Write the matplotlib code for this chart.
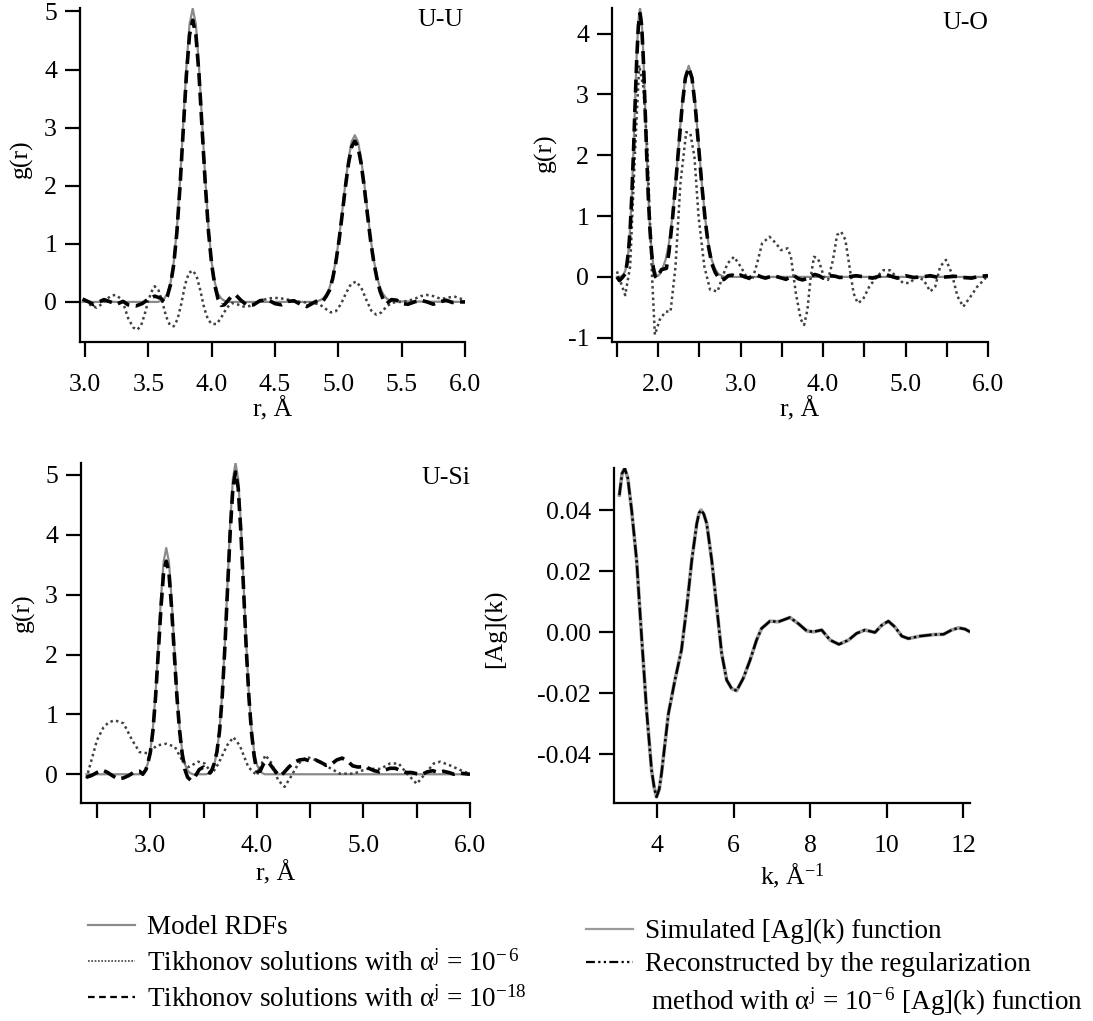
#!/usr/bin/env python3
# -*- coding: utf-8 -*-
"""
U-U / U-O / U-Si 的 RDF 重建 + [Ag](k) 函数对比图
"""

import matplotlib
matplotlib.use('Agg')
import matplotlib.pyplot as plt
from matplotlib.lines import Line2D

# —— 数据 —— #
# U-U
uu_model_r = [2.98, 3.55, 3.575, 3.6, 3.625, 3.65, 3.675, 3.7, 3.725, 3.75, 3.775, 3.8, 3.825, 3.85,
              3.875, 3.9, 3.925, 3.95, 3.975, 4.0, 4.025, 4.05, 4.075, 4.1, 4.125, 4.8, 4.83, 4.855,
              4.88, 4.905, 4.93, 4.955, 4.98, 5.005, 5.03, 5.055, 5.08, 5.105, 5.13, 5.155, 5.18,
              5.205, 5.23, 5.255, 5.28, 5.305, 5.33, 5.355, 5.38, 5.405, 5.43, 6.0]
uu_model_g = [0.0, 0.0, 0.0, 0.02, 0.06, 0.14, 0.33, 0.68, 1.26, 2.08, 3.06, 4.04, 4.78, 5.05,
              4.78, 4.04, 3.06, 2.08, 1.26, 0.68, 0.33, 0.14, 0.06, 0.02, 0.0, 0.0, 0.01, 0.03,
              0.06, 0.13, 0.24, 0.43, 0.72, 1.09, 1.55, 2.03, 2.46, 2.76, 2.87, 2.76, 2.46,
              2.03, 1.55, 1.09, 0.72, 0.43, 0.24, 0.13, 0.06, 0.03, 0.01, 0.0]

uu_a6_r = [3.0, 3.04, 3.09, 3.13, 3.17, 3.21, 3.24, 3.28, 3.31, 3.34, 3.38, 3.41, 3.44, 3.47, 3.5,
           3.53, 3.55, 3.58, 3.61, 3.64, 3.67, 3.7, 3.73, 3.76, 3.79, 3.82, 3.85, 3.88, 3.91, 3.94,
           3.97, 4.0, 4.04, 4.08, 4.12, 4.16, 4.2, 4.25, 4.3, 4.35, 4.4, 4.45, 4.5, 4.55, 4.6, 4.65,
           4.7, 4.75, 4.8, 4.85, 4.9, 4.94, 4.98, 5.02, 5.06, 5.1, 5.14, 5.18, 5.22, 5.26, 5.3,
           5.34, 5.38, 5.42, 5.46, 5.5, 5.55, 5.6, 5.65, 5.7, 5.75, 5.8, 5.84, 5.88, 5.92, 5.96, 6.0]
uu_a6_g = [0.03, -0.05, -0.1, -0.04, 0.05, 0.11, 0.12, 0.06, -0.08, -0.28, -0.44, -0.48, -0.42,
           -0.22, 0.03, 0.2, 0.27, 0.2, 0.0, -0.25, -0.4, -0.42, -0.3, -0.03, 0.3, 0.5, 0.54, 0.45,
           0.2, -0.1, -0.3, -0.38, -0.38, -0.25, -0.1, -0.02, -0.04, -0.08, -0.07, -0.02, 0.03,
           0.06, 0.07, 0.06, 0.04, 0.02, 0.0, -0.01, -0.02, -0.04, -0.12, -0.18, -0.16, -0.04,
           0.15, 0.31, 0.35, 0.25, 0.04, -0.15, -0.22, -0.18, -0.08, -0.02, 0.0, 0.0, 0.02, 0.05,
           0.1, 0.12, 0.1, 0.06, 0.06, 0.08, 0.09, 0.06, 0.03]

uu_a18_r = [2.98, 3.03, 3.07, 3.11, 3.15, 3.2, 3.25, 3.3, 3.34, 3.4, 3.45, 3.5, 3.55, 3.6, 3.625,
            3.65, 3.675, 3.7, 3.725, 3.75, 3.775, 3.8, 3.825, 3.85, 3.875, 3.9, 3.925, 3.95, 3.975,
            4.0, 4.025, 4.05, 4.075, 4.1, 4.15, 4.19, 4.23, 4.28, 4.33, 4.38, 4.44, 4.5, 4.55, 4.6,
            4.65, 4.7, 4.75, 4.8, 4.85, 4.88, 4.905, 4.93, 4.955, 4.98, 5.005, 5.03, 5.055, 5.08,
            5.105, 5.13, 5.155, 5.18, 5.205, 5.23, 5.255, 5.28, 5.305, 5.33, 5.355, 5.38, 5.42,
            5.46, 5.5, 5.55, 5.6, 5.65, 5.7, 5.75, 5.8, 5.85, 5.9, 5.95, 6.0]
uu_a18_g = [0.05, 0.0, -0.05, 0.0, 0.04, 0.0, -0.04, 0.01, -0.05, -0.07, -0.03, 0.05, 0.1, 0.06,
            0.0, 0.1, 0.3, 0.64, 1.2, 2.0, 2.95, 3.9, 4.6, 4.85, 4.6, 3.9, 2.95, 2.0, 1.2,
            0.64, 0.28, 0.05, -0.06, -0.05, 0.08, 0.12, 0.03, -0.06, -0.05, 0.02, 0.04, -0.03,
            -0.05, 0.01, 0.02, -0.04, -0.08, -0.02, 0.04, 0.02, 0.1, 0.2, 0.4, 0.68, 1.05, 1.5,
            1.97, 2.38, 2.67, 2.77, 2.67, 2.38, 1.97, 1.5, 1.05, 0.68, 0.4, 0.18, 0.04, -0.03,
            0.04, 0.03, -0.03, -0.04, 0.0, 0.03, 0.0, -0.04, 0.0, 0.03, -0.01, 0.0, 0.0]

# U-O
uo_model_r = [1.5, 1.56, 1.58, 1.6, 1.62, 1.64, 1.66, 1.68, 1.7, 1.72, 1.74, 1.76, 1.78, 1.8, 1.82,
              1.84, 1.86, 1.88, 1.9, 1.92, 1.94, 1.96, 1.98, 2.0, 2.02, 2.05, 2.09, 2.13, 2.17, 2.21,
              2.25, 2.29, 2.33, 2.37, 2.41, 2.45, 2.49, 2.53, 2.57, 2.61, 2.65, 2.69, 2.73, 2.77,
              2.8, 6.0]
uo_model_g = [0.0, 0.01, 0.04, 0.1, 0.21, 0.43, 0.8, 1.35, 2.07, 2.89, 3.66, 4.22, 4.42, 4.22, 3.66,
              2.89, 2.07, 1.35, 0.8, 0.43, 0.21, 0.1, 0.03, 0.02, 0.05, 0.13, 0.28, 0.55, 0.96, 1.53,
              2.19, 2.83, 3.3, 3.47, 3.3, 2.83, 2.19, 1.53, 0.96, 0.55, 0.28, 0.13, 0.05, 0.02,
              0.0, 0.0]

uo_a6_r = [1.5, 1.6, 1.66, 1.72, 1.77, 1.82, 1.87, 1.92, 1.96, 2.02, 2.09, 2.15, 2.21, 2.27, 2.34,
           2.39, 2.44, 2.49, 2.56, 2.63, 2.72, 2.78, 2.84, 2.92, 3.0, 3.08, 3.14, 3.2, 3.26, 3.35,
           3.43, 3.49, 3.57, 3.61, 3.67, 3.73, 3.77, 3.81, 3.85, 3.89, 3.94, 4.01, 4.06, 4.12,
           4.17, 4.22, 4.27, 4.32, 4.37, 4.42, 4.48, 4.56, 4.65, 4.73, 4.81, 4.89, 4.97, 5.05,
           5.13, 5.22, 5.3, 5.36, 5.42, 5.49, 5.56, 5.63, 5.7, 5.79, 5.87, 5.95, 6.0]
uo_a6_g = [0.09, -0.3, 0.17, 2.08, 3.48, 3.12, 2.08, 0.17, -0.95, -0.7, -0.57, -0.57, 0.17, 1.54,
           2.38, 2.36, 1.97, 0.99, 0.17, -0.21, -0.24, 0.0, 0.22, 0.33, 0.17, -0.02, -0.05, 0.22,
           0.55, 0.66, 0.55, 0.44, 0.47, 0.33, -0.27, -0.7, -0.79, -0.54, 0.0, 0.33, 0.3, 0.0,
           -0.05, 0.28, 0.69, 0.74, 0.61, 0.17, -0.27, -0.43, -0.38, -0.16, 0.0, 0.11, 0.11, 0.0,
           -0.1, -0.1, 0.0, -0.05, -0.24, -0.16, 0.17, 0.28, 0.06, -0.32, -0.49, -0.32, -0.16,
           -0.05, 0.03]

uo_a18_r = [1.5, 1.53, 1.56, 1.6, 1.62, 1.64, 1.66, 1.68, 1.7, 1.72, 1.74, 1.76, 1.78, 1.8, 1.82,
            1.84, 1.86, 1.88, 1.9, 1.92, 1.94, 1.96, 1.98, 2.01, 2.04, 2.07, 2.1, 2.13, 2.17, 2.21,
            2.25, 2.29, 2.33, 2.37, 2.41, 2.45, 2.49, 2.53, 2.57, 2.61, 2.65, 2.69, 2.73, 2.77,
            2.8, 2.85, 2.9, 2.95, 3.0, 3.05, 3.1, 3.15, 3.2, 3.25, 3.3, 3.35, 3.4, 3.45, 3.5, 3.55,
            3.6, 3.65, 3.7, 3.75, 3.8, 3.85, 3.9, 3.95, 4.0, 4.05, 4.1, 4.15, 4.2, 4.3, 4.4, 4.5,
            4.6, 4.7, 4.75, 4.8, 4.9, 5.0, 5.1, 5.2, 5.3, 5.4, 5.5, 5.6, 5.7, 5.8, 5.9, 6.0]
uo_a18_g = [0.0, -0.06, -0.02, 0.05, 0.2, 0.42, 0.78, 1.32, 2.03, 2.83, 3.58, 4.13, 4.33, 4.13,
            3.58, 2.83, 2.03, 1.32, 0.78, 0.4, 0.15, 0.02, -0.02, 0.05, 0.12, 0.13, 0.14, 0.4,
            0.9, 1.5, 2.15, 2.8, 3.27, 3.44, 3.27, 2.8, 2.15, 1.5, 0.94, 0.5, 0.22, 0.08, -0.01,
            -0.05, -0.04, 0.02, 0.03, 0.0, 0.03, 0.0, -0.02, 0.02, 0.03, 0.0, -0.02, 0.0, 0.02,
            0.0, -0.02, -0.04, 0.0, 0.02, -0.03, -0.05, -0.03, 0.01, 0.04, 0.02, -0.02, 0.0, 0.02,
            0.01, -0.01, 0.0, 0.02, 0.0, -0.02, 0.02, 0.05, 0.02, -0.02, 0.02, -0.01, 0.0, 0.02,
            -0.01, 0.0, 0.01, -0.01, -0.02, 0.01, 0.02]

# U-Si
usi_model_r = [2.4, 2.9, 2.925, 2.95, 2.975, 3.0, 3.025, 3.05, 3.075, 3.1, 3.125, 3.15, 3.175, 3.2,
               3.225, 3.25, 3.275, 3.3, 3.325, 3.35, 3.375, 3.4, 3.525, 3.55, 3.575, 3.6, 3.625,
               3.65, 3.675, 3.7, 3.725, 3.75, 3.775, 3.8, 3.825, 3.85, 3.875, 3.9, 3.925, 3.95,
               3.975, 4.0, 4.025, 4.05, 4.075, 6.0]
usi_model_g = [0.0, 0.0, 0.02, 0.06, 0.17, 0.38, 0.77, 1.36, 2.13, 2.93, 3.55, 3.78, 3.55, 2.93,
               2.13, 1.36, 0.77, 0.38, 0.17, 0.06, 0.02, 0.0, 0.0, 0.02, 0.07, 0.16, 0.37,
               0.74, 1.34, 2.19, 3.19, 4.19, 4.93, 5.2, 4.93, 4.19, 3.19, 2.19, 1.34, 0.74,
               0.37, 0.16, 0.07, 0.02, 0.0, 0.0]

usi_a6_r = [2.4, 2.43, 2.5, 2.56, 2.61, 2.67, 2.75, 2.83, 2.9, 2.98, 3.06, 3.15, 3.23, 3.3, 3.36,
            3.45, 3.51, 3.58, 3.64, 3.72, 3.78, 3.84, 3.92, 4.0, 4.08, 4.14, 4.2, 4.26, 4.32, 4.39,
            4.47, 4.56, 4.67, 4.78, 4.91, 5.03, 5.16, 5.25, 5.33, 5.41, 5.5, 5.58, 5.66, 5.72,
            5.81, 5.91, 5.99]
usi_a6_g = [-0.07, 0.12, 0.57, 0.78, 0.87, 0.9, 0.85, 0.57, 0.37, 0.35, 0.48, 0.51, 0.46, 0.23,
            0.12, 0.21, 0.18, 0.01, 0.18, 0.48, 0.62, 0.48, 0.12, -0.02, 0.32, 0.18, -0.1, -0.21,
            -0.04, 0.18, 0.29, 0.23, 0.12, 0.01, 0.01, 0.09, 0.09, 0.18, 0.18, 0.01, -0.16, 0.01,
            0.18, 0.21, 0.15, 0.07, 0.01]

usi_a18_r = [2.4, 2.45, 2.5, 2.55, 2.6, 2.65, 2.7, 2.75, 2.8, 2.85, 2.9, 2.93, 2.96, 2.975, 3.0,
             3.025, 3.05, 3.075, 3.1, 3.125, 3.15, 3.175, 3.2, 3.225, 3.25, 3.275, 3.3, 3.325,
             3.35, 3.38, 3.42, 3.46, 3.5, 3.54, 3.56, 3.58, 3.6, 3.625, 3.65, 3.675, 3.7, 3.725,
             3.75, 3.775, 3.8, 3.825, 3.85, 3.875, 3.9, 3.925, 3.95, 3.975, 4.0, 4.03, 4.07, 4.11,
             4.16, 4.21, 4.25, 4.3, 4.35, 4.4, 4.45, 4.5, 4.55, 4.6, 4.65, 4.7, 4.75, 4.8, 4.85,
             4.9, 4.95, 5.0, 5.05, 5.1, 5.15, 5.2, 5.25, 5.3, 5.35, 5.4, 5.45, 5.5, 5.55, 5.6,
             5.65, 5.7, 5.75, 5.8, 5.85, 5.9, 5.95, 6.0]
usi_a18_g = [-0.05, -0.02, 0.03, 0.07, 0.03, -0.03, -0.08, -0.06, -0.02, 0.04, 0.05, 0.0, 0.08,
             0.17, 0.36, 0.73, 1.3, 2.03, 2.78, 3.37, 3.56, 3.37, 2.78, 2.03, 1.3, 0.73, 0.33,
             0.08, -0.05, -0.1, -0.04, 0.08, 0.12, 0.04, 0.02, 0.08, 0.18, 0.37, 0.72, 1.3, 2.12,
             3.1, 4.05, 4.78, 5.05, 4.78, 4.05, 3.1, 2.12, 1.3, 0.7, 0.3, 0.05, 0.05, 0.2, 0.2,
             0.08, -0.03, 0.02, 0.12, 0.2, 0.24, 0.25, 0.22, 0.24, 0.2, 0.15, 0.17, 0.24, 0.27,
             0.22, 0.14, 0.12, 0.13, 0.1, 0.06, 0.04, 0.07, 0.1, 0.1, 0.06, 0.03, 0.03, 0.01,
             0.0, 0.04, 0.06, 0.03, 0.05, 0.03, 0.0, 0.02, 0.01, 0.0]

# [Ag](k)
ag_k = [3.02, 3.09, 3.16, 3.24, 3.34, 3.47, 3.6, 3.73, 3.86, 3.93, 3.99, 4.06, 4.12, 4.3, 4.47,
        4.64, 4.78, 4.91, 5.04, 5.1, 5.15, 5.22, 5.3, 5.43, 5.56, 5.69, 5.82, 5.95, 6.08, 6.25,
        6.43, 6.6, 6.73, 6.95, 7.17, 7.47, 7.69, 7.91, 8.08, 8.3, 8.52, 8.75, 9.0, 9.21, 9.43,
        9.69, 9.87, 10.04, 10.21, 10.39, 10.56, 10.87, 11.22, 11.48, 11.69, 11.87, 12.04, 12.17]
ag_sim = [0.0449, 0.052, 0.0537, 0.0505, 0.040, 0.0236, -0.0015, -0.0256, -0.0452, -0.051, -0.054,
          -0.0515, -0.0463, -0.0267, -0.0157, -0.0059, 0.0083, 0.0236, 0.0356, 0.0390, 0.040,
          0.0388, 0.0356, 0.0236, 0.0083, -0.007, -0.0157, -0.0185, -0.0192, -0.0152, -0.0092,
          -0.0026, 0.0012, 0.0036, 0.0034, 0.0048, 0.0028, 0.0004, 0.0001, 0.0007, -0.0026,
          -0.004, -0.0026, -0.0004, 0.0007, -0.0001, 0.0023, 0.0036, 0.0017, -0.0013, -0.0021,
          -0.0013, -0.0008, -0.0007, 0.0007, 0.0014, 0.001, 0.0001]
ag_rec = ag_sim  # 重建结果与模拟曲线几乎重合

# —— 样式 —— #
plt.rcParams['font.family'] = ['Liberation Serif', 'DejaVu Serif']
plt.rcParams['mathtext.fontset'] = 'custom'
plt.rcParams['mathtext.rm'] = 'Liberation Serif'
plt.rcParams['mathtext.it'] = 'Liberation Serif:italic'
plt.rcParams['axes.unicode_minus'] = False
plt.rcParams['font.size'] = 18.5

GRAY = '#8a8a8a'
DOT = '#404040'
FS_LEG = 19.5


def style_axes(ax):
    for s in ['top', 'right']:
        ax.spines[s].set_visible(False)
    for s in ['left', 'bottom']:
        ax.spines[s].set_linewidth(1.6)
    ax.tick_params(direction='out', length=11, width=1.6, labelsize=18.5)
    ax.tick_params(axis='x', pad=12)
    ax.tick_params(axis='y', pad=5.5)


def plot_rdf(ax, mr, mg, r6, g6, r18, g18):
    ax.plot(mr, mg, color=GRAY, lw=1.6, zorder=2)
    ax.plot(r6, g6, color=DOT, lw=1.8, linestyle=(0, (1, 1.3)), zorder=3)
    ax.plot(r18, g18, color='black', lw=2.6, linestyle=(0, (3.6, 1.8)), zorder=4)


fig = plt.figure(figsize=(10.93, 10.21), dpi=100)
W, H = 1093.0, 1021.0


def add_ax(l, r, t, b):
    return fig.add_axes([l / W, 1 - b / H, (r - l) / W, (b - t) / H])


ax1 = add_ax(80, 465, 8, 342)
ax2 = add_ax(612, 988, 8, 342)
ax3 = add_ax(81, 470, 463, 803)
ax4 = add_ax(614, 970, 468, 803)

# 1) U-U
plot_rdf(ax1, uu_model_r, uu_model_g, uu_a6_r, uu_a6_g, uu_a18_r, uu_a18_g)
ax1.set_xlim(2.96, 6.0)
ax1.set_ylim(-0.69, 5.06)
ax1.set_xticks([3.0, 3.5, 4.0, 4.5, 5.0, 5.5, 6.0])
ax1.set_xticklabels(['3.0', '3.5', '4.0', '4.5', '5.0', '5.5', '6.0'])
ax1.set_yticks([0, 1, 2, 3, 4, 5])
ax1.text(0.995, 0.963, 'U-U', transform=ax1.transAxes, ha='right', va='center')

# 2) U-O
plot_rdf(ax2, uo_model_r, uo_model_g, uo_a6_r, uo_a6_g, uo_a18_r, uo_a18_g)
ax2.set_xlim(1.44, 6.0)
ax2.set_ylim(-1.07, 4.42)
ax2.set_xticks([1.5, 2.0, 2.5, 3.0, 3.5, 4.0, 4.5, 5.0, 5.5, 6.0])
ax2.set_xticklabels(['', '2.0', '', '3.0', '', '4.0', '', '5.0', '', '6.0'])
ax2.set_yticks([-1, 0, 1, 2, 3, 4])
ax2.text(1.0, 0.955, 'U-O', transform=ax2.transAxes, ha='right', va='center')

# 3) U-Si
plot_rdf(ax3, usi_model_r, usi_model_g, usi_a6_r, usi_a6_g, usi_a18_r, usi_a18_g)
ax3.set_xlim(2.35, 6.0)
ax3.set_ylim(-0.48, 5.2)
ax3.set_xticks([2.5, 3.0, 3.5, 4.0, 4.5, 5.0, 5.5, 6.0])
ax3.set_xticklabels(['', '3.0', '', '4.0', '', '5.0', '', '6.0'])
ax3.set_yticks([0, 1, 2, 3, 4, 5])
ax3.text(1.0, 0.956, 'U-Si', transform=ax3.transAxes, ha='right', va='center')

# 4) [Ag](k)
ax4.plot(ag_k, ag_sim, color='#9a9a9a', lw=2.6, zorder=2)
ax4.plot(ag_k, ag_rec, color='black', lw=1.8, linestyle=(0, (5, 1.2, 1, 1.2)), zorder=3)
ax4.set_xlim(2.88, 12.17)
ax4.set_ylim(-0.056, 0.0538)
ax4.set_xticks([4, 6, 8, 10, 12])
ax4.set_yticks([-0.04, -0.02, 0.0, 0.02, 0.04])
ax4.set_yticklabels(['-0.04', '-0.02', '0.00', '0.02', '0.04'])

for ax in (ax1, ax2, ax3, ax4):
    style_axes(ax)

ax1.set_ylabel('g(r)')
ax2.set_ylabel('g(r)')
ax3.set_ylabel('g(r)')
ax4.set_ylabel('[Ag](k)')
ax1.yaxis.set_label_coords(-0.122, 0.55)
ax2.yaxis.set_label_coords(-0.146, 0.566)
ax3.yaxis.set_label_coords(-0.118, 0.56)
ax4.yaxis.set_label_coords(-0.3, 0.52)

ax1.set_xlabel('r, Å', labelpad=1)
ax2.set_xlabel('r, Å', labelpad=1)
ax3.set_xlabel('r, Å', labelpad=3)
ax4.set_xlabel('k, Å$^{\\mathregular{-1}}$', labelpad=3)

# —— 图例 —— #
left_handles = [
    Line2D([], [], color=GRAY, lw=1.6),
    Line2D([], [], color=DOT, lw=1.2, linestyle=(0, (1, 1))),
    Line2D([], [], color='black', lw=1.6, linestyle=(0, (3, 2))),
]
left_labels = [
    'Model RDFs',
    'Tikhonov solutions with α$^{\\mathregular{j}}$ = 10$^{\\mathregular{-\\,6}}$',
    'Tikhonov solutions with α$^{\\mathregular{j}}$ = 10$^{\\mathregular{-18}}$',
]
fig.legend(left_handles, left_labels, loc='upper left', bbox_to_anchor=(88 / W, 1 - 915 / H),
           frameon=False, fontsize=FS_LEG, handlelength=1.75, handletextpad=0.42,
           labelspacing=0.36, borderaxespad=0, borderpad=0)

right_handles = [
    Line2D([], [], color='#9a9a9a', lw=1.6),
    Line2D([], [], color='black', lw=1.6, linestyle=(0, (4, 1.5, 1, 1.5, 1, 1.5))),
    Line2D([], [], linestyle='none'),
]
right_labels = [
    'Simulated [Ag](k) function',
    'Reconstructed by the regularization',
    ' method with α$^{\\mathregular{j}}$ = 10$^{\\mathregular{-\\,6}}$ [Ag](k) function',
]
fig.legend(right_handles, right_labels, loc='upper left', bbox_to_anchor=(586 / W, 1 - 919 / H),
           frameon=False, fontsize=FS_LEG, handlelength=1.75, handletextpad=0.42,
           labelspacing=0.3, borderaxespad=0, borderpad=0)

fig.savefig('out.png', dpi=100)
